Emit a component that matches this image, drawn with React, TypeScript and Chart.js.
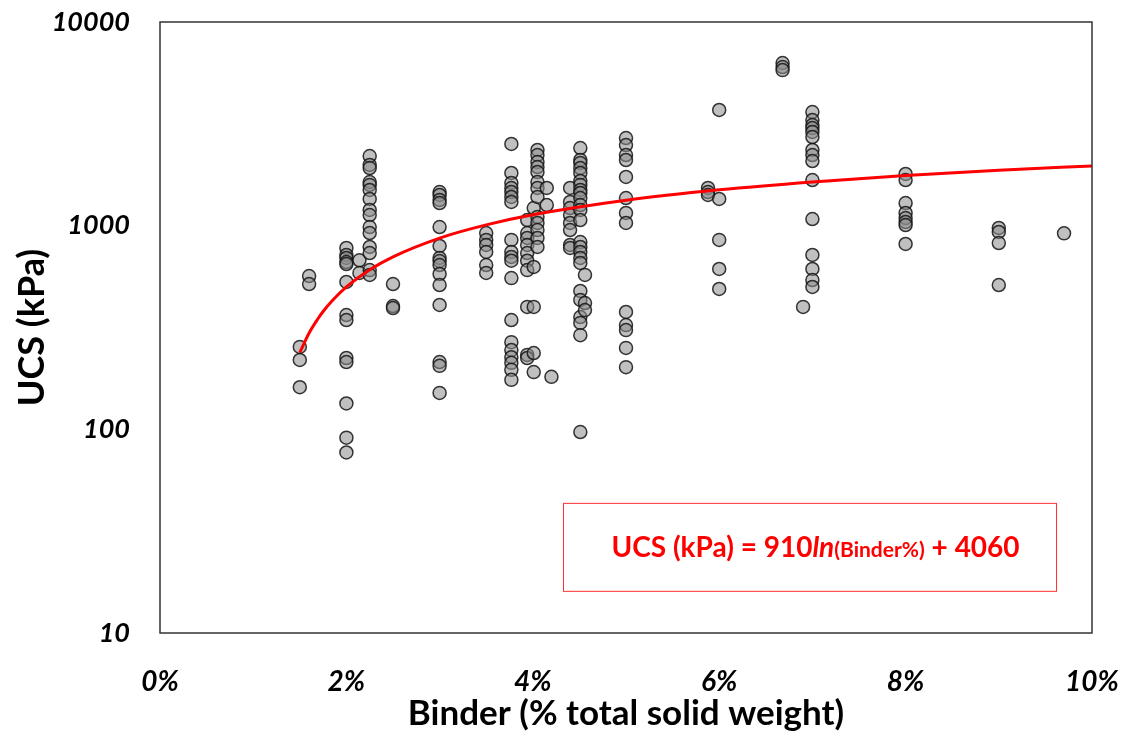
import React, { useEffect, useRef } from 'react';
import { Chart, registerables } from 'chart.js';

Chart.register(...registerables);

// Binder content (% of total solid weight) of each column of specimens
const binderPct = [1.5, 1.6, 2.0, 2.14, 2.25, 2.5, 3.0, 3.5, 3.77, 3.94, 4.01, 4.05, 4.15, 4.2, 4.4, 4.51, 4.56, 5.0, 5.88, 6.0, 6.68, 6.9, 7.0, 8.0, 9.0, 9.7];

// UCS values (kPa) read for each binder column above
const ucsKPa = [
  [254, 219, 161],
  [566, 517],
  [777, 718, 694, 663, 648, 529, 364, 344, 224, 214, 134, 91, 77],
  [676, 586],
  [2198, 1986, 1919, 1638, 1585, 1497, 1352, 1194, 1128, 985, 920, 786, 734, 605, 573],
  [517, 403, 394],
  [1463, 1415, 1337, 1292, 985, 795, 694, 670, 641, 579, 511, 408, 214, 205, 151],
  [920, 851, 804, 743, 641, 586],
  [2518, 1815, 1620, 1529, 1463, 1383, 1307, 851, 743, 702, 673, 553, 344, 268, 245, 226, 212, 196, 175],
  [1066, 920, 870, 804, 734, 673, 605, 399, 232, 224],
  [1221, 627, 399, 237, 191],
  [2353, 2223, 2054, 1941, 1834, 1638, 1531, 1383, 1104, 1031, 952, 870, 786],
  [1531, 1263],
  [181],
  [1531, 1307, 1221, 1128, 1031, 952, 804, 777],
  [2405, 2101, 2031, 1919, 1815, 1657, 1585, 1497, 1447, 1367, 1263, 1194, 1066, 831, 786, 743, 694, 656, 478, 432, 356, 333, 290, 97],
  [573, 417, 385],
  [2694, 2489, 2223, 2101, 1734, 1367, 1154, 1031, 377, 325, 307, 251, 202],
  [1531, 1463, 1415],
  [3698, 1352, 851, 613, 489],
  [6290, 6012, 5808],
  [399],
  [3614, 3302, 3120, 3013, 2884, 2724, 2353, 2223, 2076, 1675, 1078, 718, 613, 541, 500],
  [1794, 1675, 1292, 1154, 1090, 1042, 1007, 813],
  [974, 931, 822, 511],
  [917],
];

// Trend line: UCS (kPa) = 910 ln(Binder) + 4060, tabulated
const trendBinderPct = [1.5, 1.6, 1.7, 1.75, 1.85, 2.0, 2.25, 2.5, 3.0, 3.5, 4.0, 5.0, 6.0, 7.0, 8.0, 9.0, 10.0];
const trendUcs = [238, 297, 352, 379, 429, 500, 607, 703, 869, 1009, 1131, 1334, 1500, 1640, 1762, 1869, 1965];

const xTickPct = [0, 2, 4, 6, 8, 10];
const yTickValues = [10, 100, 1000, 10000];

const equationParts = [
  { text: 'UCS (kPa) = 910', style: 'bold', size: 28 },
  { text: 'ln', style: 'italic bold', size: 28 },
  { text: '(Binder%)', style: 'bold', size: 21 },
  { text: ' + 4060', style: 'bold', size: 28 },
];

const FONT = 'Lato, "Open Sans", sans-serif';

const framePlugin = {
  id: 'frameAndEquation',
  afterDraw(chart: any) {
    const { ctx, chartArea } = chart;
    const { left, right, top, bottom } = chartArea;
    ctx.save();
    ctx.strokeStyle = '#333333';
    ctx.lineWidth = 1.5;
    ctx.strokeRect(left, top, right - left, bottom - top);

    // equation box
    const w = right - left;
    const h = bottom - top;
    const bx = left + w * 0.4324;
    const by = top + h * 0.787;
    const bw = w * (0.9614 - 0.4324);
    const bh = h * (0.931 - 0.787);
    ctx.strokeStyle = '#ff3030';
    ctx.lineWidth = 1;
    ctx.strokeRect(bx + 0.5, by + 0.5, bw, bh);

    let total = 0;
    const widths = equationParts.map((p) => {
      ctx.font = `${p.style} ${p.size}px ${FONT}`;
      const m = ctx.measureText(p.text).width;
      total += m;
      return m;
    });
    let x = bx + bw / 2 - total / 2 + 6;
    const cy = by + bh / 2;
    ctx.fillStyle = '#ff0000';
    ctx.textBaseline = 'alphabetic';
    equationParts.forEach((p, i) => {
      ctx.font = `${p.style} ${p.size}px ${FONT}`;
      ctx.fillText(p.text, x, cy + 10);
      x += widths[i];
    });
    ctx.restore();
  },
};

export default function App() {
  const canvasRef = useRef<HTMLCanvasElement | null>(null);

  useEffect(() => {
    document.body.style.margin = '0';
    const points: { x: number; y: number }[] = [];
    binderPct.forEach((b, i) => {
      ucsKPa[i].forEach((u) => points.push({ x: b / 100, y: u }));
    });
    const trend = trendBinderPct.map((b, i) => ({ x: b / 100, y: trendUcs[i] }));

    const chart = new Chart(canvasRef.current as HTMLCanvasElement, {
      type: 'scatter',
      data: {
        datasets: [
          {
            type: 'line',
            data: trend,
            borderColor: '#ff0000',
            borderWidth: 3,
            pointRadius: 0,
            fill: false,
            cubicInterpolationMode: 'monotone',
            order: 0,
          } as any,
          {
            type: 'scatter',
            data: points,
            pointRadius: 6.5,
            pointBorderWidth: 1.5,
            pointBackgroundColor: 'rgba(140,140,140,0.55)',
            pointBorderColor: 'rgba(20,20,20,0.85)',
            order: 1,
          } as any,
        ],
      },
      options: {
        animation: false,
        responsive: false,
        maintainAspectRatio: false,
        layout: { padding: { left: 0, top: 22, right: 36, bottom: 0 } },
        plugins: { legend: { display: false }, tooltip: { enabled: false } },
        scales: {
          x: {
            type: 'linear',
            min: 0,
            max: 0.1,
            grid: { display: false, drawTicks: false },
            border: { display: false },
            afterBuildTicks: (scale: any) => {
              scale.ticks = xTickPct.map((v) => ({ value: v / 100 }));
            },
            afterFit: (scale: any) => {
              scale.height = 103;
              scale.paddingLeft = 0;
              scale.paddingRight = 0;
            },
            ticks: {
              padding: 32,
              color: '#000',
              font: { family: FONT, size: 28, weight: 'bold', style: 'italic' },
              callback: (v: any) => Math.round(Number(v) * 100) + '%',
            },
            title: {
              display: true,
              text: 'Binder (% total solid weight)',
              color: '#000',
              font: { family: FONT, size: 35, weight: 'bold' },
              padding: { top: 0, bottom: 1 },
            },
          },
          y: {
            type: 'logarithmic',
            min: 10,
            max: 10000,
            grid: { display: false, drawTicks: false },
            border: { display: false },
            afterBuildTicks: (scale: any) => {
              scale.ticks = yTickValues.map((v) => ({ value: v }));
            },
            afterFit: (scale: any) => {
              scale.width = 160;
              scale.paddingTop = 0;
              scale.paddingBottom = 0;
            },
            ticks: {
              padding: 30,
              color: '#000',
              font: { family: FONT, size: 27, weight: 'bold', style: 'italic' },
              callback: (v: any) => String(v),
            },
            title: {
              display: true,
              text: 'UCS (kPa)',
              color: '#000',
              font: { family: FONT, size: 36, weight: 'bold' },
              padding: { top: 11, bottom: 0 },
            },
          },
        },
      } as any,
      plugins: [framePlugin],
    });
    return () => chart.destroy();
  }, []);

  return (
    <div style={{ position: 'absolute', left: 0, top: 0, width: 1128, height: 736 }}>
      <canvas ref={canvasRef} width={1128} height={736} style={{ width: 1128, height: 736 }} />
    </div>
  );
}
